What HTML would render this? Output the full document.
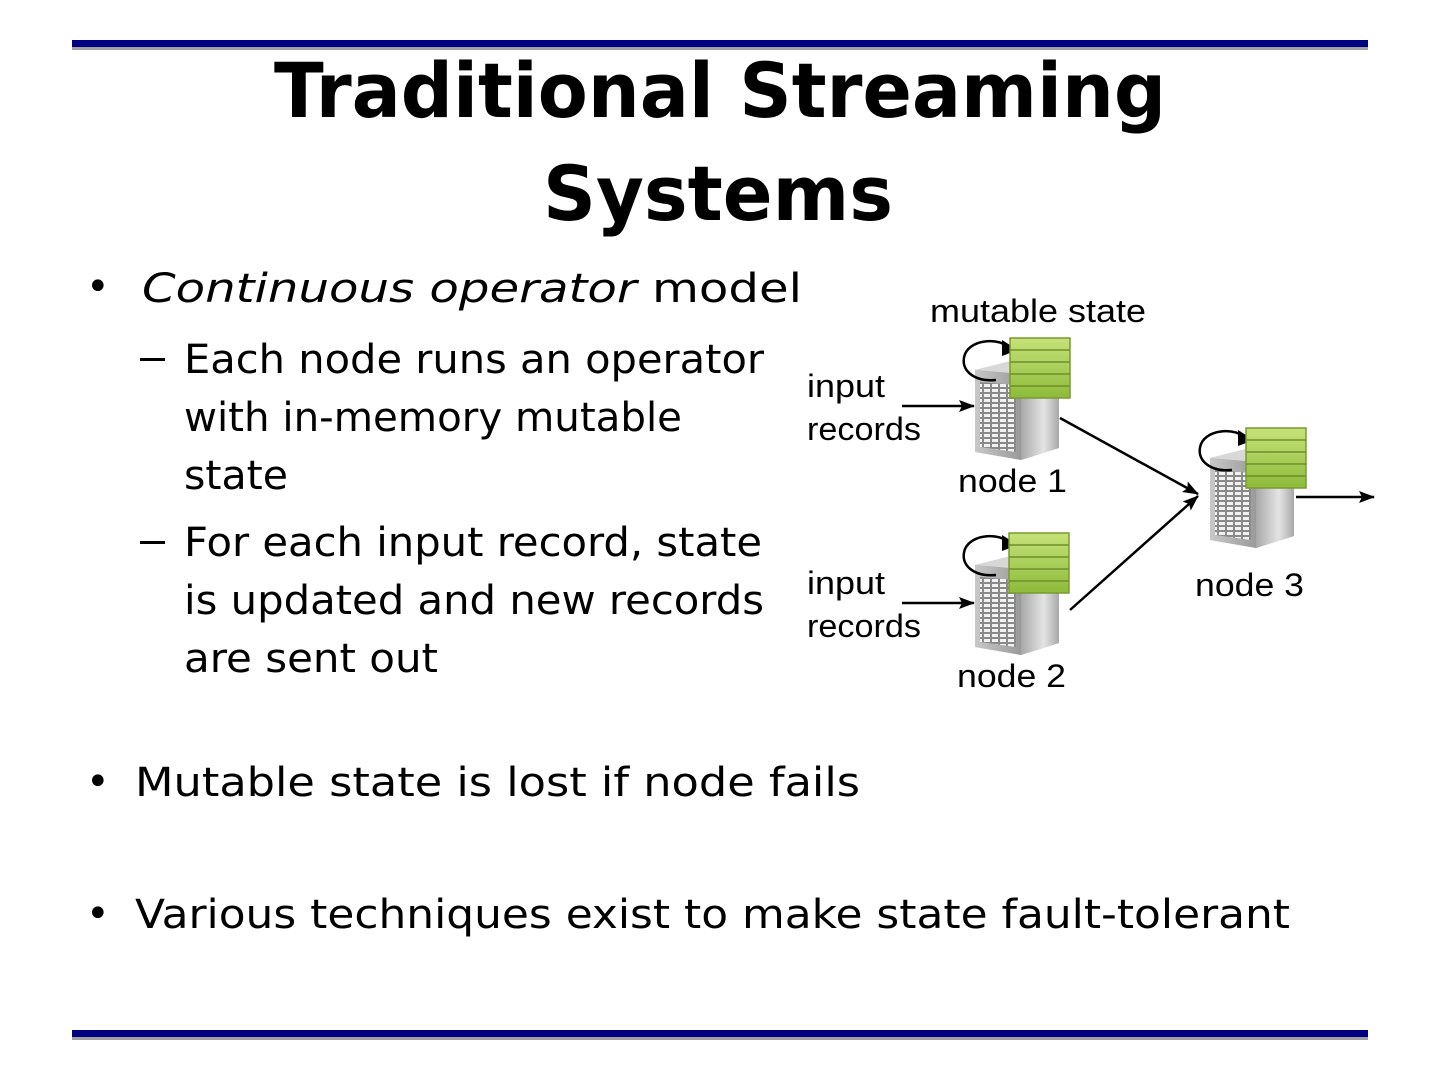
<!DOCTYPE html>
<html><head><style>
html,body{margin:0;padding:0;background:#fff;}
svg{display:block}
text{font-family:"DejaVu Sans","Liberation Sans",sans-serif;fill:#000}
</style></head><body>
<svg width="1440" height="1080" viewBox="0 0 1440 1080" xmlns="http://www.w3.org/2000/svg">
<defs>
<marker id="ah" markerWidth="16" markerHeight="12" refX="15" refY="6" orient="auto" markerUnits="userSpaceOnUse"><path d="M0,0 L16,6 L0,12 L3,6 z" fill="#000"/></marker>
<linearGradient id="front" x1="0" x2="1"><stop offset="0" stop-color="#c8c8c8"/><stop offset="1" stop-color="#9a9a9a"/></linearGradient>
<linearGradient id="side" x1="0" x2="1"><stop offset="0" stop-color="#a8a8a8"/><stop offset="0.6" stop-color="#e4e4e4"/><stop offset="1" stop-color="#a8a8a8"/></linearGradient>
<linearGradient id="grn" x1="0" y1="0" x2="0" y2="1"><stop offset="0" stop-color="#c6e27a"/><stop offset="1" stop-color="#8dbb3a"/></linearGradient>
<pattern id="grid" width="8" height="5" patternUnits="userSpaceOnUse"><rect width="8" height="5" fill="#8a8a8a"/><rect x="1" y="1" width="6" height="3" fill="#f2f2f2"/></pattern>
<g id="srv">
  <path d="M0,22 L40,12 L84,20 L84,100 L46,112 L0,104 z" fill="#bbb"/>
  <path d="M46,26 L84,20 L84,100 L46,112 z" fill="url(#side)"/>
  <path d="M0,22 L40,12 L84,20 L46,26 z" fill="#d8d8d8"/>
  <path d="M0,22 L46,26 L46,112 L0,104 z" fill="url(#front)"/>
  <path d="M5,34 L41,37 L41,104 L5,99 z" fill="url(#grid)"/>
</g>
<g id="stk">
  <rect x="0" y="0" width="60" height="60" fill="url(#grn)" stroke="#7a9a2e" stroke-width="1.5"/>
  <line x1="0" y1="12" x2="60" y2="12" stroke="#6f8f2a" stroke-width="1.5"/>
  <line x1="0" y1="24" x2="60" y2="24" stroke="#6f8f2a" stroke-width="1.5"/>
  <line x1="0" y1="36" x2="60" y2="36" stroke="#6f8f2a" stroke-width="1.5"/>
  <line x1="0" y1="48" x2="60" y2="48" stroke="#6f8f2a" stroke-width="1.5"/>
</g>
<g id="loop">
  <path d="M46,8 C40,-2 10,-2 3,14 C-3,30 12,42 34,40" fill="none" stroke="#000" stroke-width="2.5"/>
  <path d="M40,0 L56,10 L40,16 z" fill="#000"/>
</g>
</defs>

<rect x="72" y="40" width="1296" height="7" fill="#000080"/>
<rect x="72" y="47" width="1296" height="3" fill="#a0a0a0"/>
<rect x="72" y="1030" width="1296" height="7" fill="#000080"/>
<rect x="72" y="1037" width="1296" height="3" fill="#a0a0a0"/>

<text x="720" y="117" text-anchor="middle" font-size="76" font-weight="bold" textLength="892" lengthAdjust="spacingAndGlyphs">Traditional Streaming</text>
<text x="718" y="220" text-anchor="middle" font-size="76" font-weight="bold" textLength="350" lengthAdjust="spacingAndGlyphs">Systems</text>

<g font-size="40">
<text x="86" y="300">•</text>
<text x="142" y="302" textLength="660" lengthAdjust="spacingAndGlyphs"><tspan font-style="italic">Continuous operator</tspan> model</text>
<rect x="140" y="358" width="25" height="3" fill="#000"/>
<text x="184" y="373" textLength="580" lengthAdjust="spacingAndGlyphs">Each node runs an operator</text>
<text x="184" y="431" textLength="498" lengthAdjust="spacingAndGlyphs">with in-memory mutable</text>
<text x="184" y="489" textLength="104" lengthAdjust="spacingAndGlyphs">state</text>
<rect x="140" y="541" width="25" height="3" fill="#000"/>
<text x="184" y="556" textLength="578" lengthAdjust="spacingAndGlyphs">For each input record, state</text>
<text x="184" y="614" textLength="580" lengthAdjust="spacingAndGlyphs">is updated and new records</text>
<text x="184" y="672" textLength="254" lengthAdjust="spacingAndGlyphs">are sent out</text>
<text x="86" y="795">•</text>
<text x="135" y="796" textLength="725" lengthAdjust="spacingAndGlyphs">Mutable state is lost if node fails</text>
<text x="86" y="927">•</text>
<text x="135" y="928" textLength="1155" lengthAdjust="spacingAndGlyphs">Various techniques exist to make state fault-tolerant</text>
</g>

<g font-size="32" style="font-family:'Liberation Sans',sans-serif">
<text x="930" y="322" textLength="216" lengthAdjust="spacingAndGlyphs" style="font-family:'Liberation Sans',sans-serif">mutable state</text>
<text x="807" y="397" textLength="78" lengthAdjust="spacingAndGlyphs" style="font-family:'Liberation Sans',sans-serif">input</text>
<text x="807" y="440" textLength="114" lengthAdjust="spacingAndGlyphs" style="font-family:'Liberation Sans',sans-serif">records</text>
<text x="958" y="492" textLength="109" lengthAdjust="spacingAndGlyphs" style="font-family:'Liberation Sans',sans-serif">node 1</text>
<text x="807" y="594" textLength="78" lengthAdjust="spacingAndGlyphs" style="font-family:'Liberation Sans',sans-serif">input</text>
<text x="807" y="637" textLength="114" lengthAdjust="spacingAndGlyphs" style="font-family:'Liberation Sans',sans-serif">records</text>
<text x="957" y="687" textLength="109" lengthAdjust="spacingAndGlyphs" style="font-family:'Liberation Sans',sans-serif">node 2</text>
<text x="1195" y="596" textLength="109" lengthAdjust="spacingAndGlyphs" style="font-family:'Liberation Sans',sans-serif">node 3</text>
</g>

<line x1="902" y1="406" x2="974" y2="406" stroke="#000" stroke-width="2.5" marker-end="url(#ah)"/>
<line x1="902" y1="603" x2="974" y2="603" stroke="#000" stroke-width="2.5" marker-end="url(#ah)"/>
<line x1="1060" y1="418" x2="1198" y2="494" stroke="#000" stroke-width="2.5" marker-end="url(#ah)"/>
<line x1="1070" y1="610" x2="1198" y2="496" stroke="#000" stroke-width="2.5" marker-end="url(#ah)"/>
<line x1="1296" y1="497" x2="1374" y2="497" stroke="#000" stroke-width="2.5" marker-end="url(#ah)"/>

<use href="#srv" x="975" y="348"/>
<use href="#loop" x="962" y="340"/>
<use href="#stk" x="1010" y="338"/>

<use href="#srv" x="975" y="543"/>
<use href="#loop" x="962" y="535"/>
<use href="#stk" x="1009" y="533"/>

<use href="#srv" x="1210" y="436"/>
<use href="#loop" x="1198" y="430"/>
<use href="#stk" x="1246" y="428"/>
</svg>
</body></html>
